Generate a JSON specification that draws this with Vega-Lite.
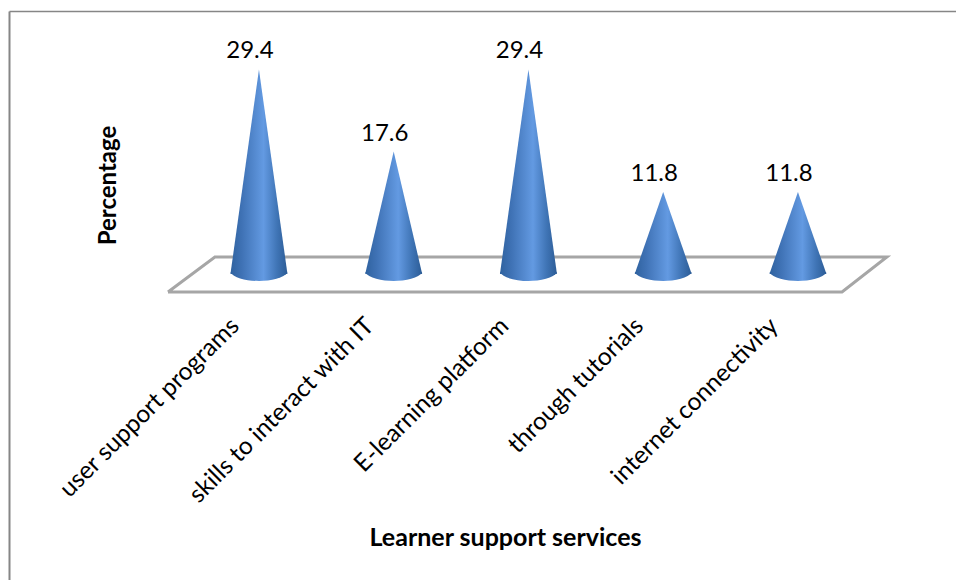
{
  "$schema": "https://vega.github.io/schema/vega-lite/v6.json",
  "width": 947,
  "height": 569,
  "autosize": {"type": "none"},
  "padding": {"left": 9, "top": 11, "right": 0, "bottom": 0},
  "background": "white",
  "view": {"stroke": null},
  "config": {"font": "Lato"},
  "datasets": {
    "services": [
      {"position": 1, "service": "user support programs", "base": 0, "value": 29.4},
      {"position": 2, "service": "skills to interact with IT", "base": 0, "value": 17.6},
      {"position": 3, "service": "E-learning platform", "base": 0, "value": 29.4},
      {"position": 4, "service": "through tutorials", "base": 0, "value": 11.8},
      {"position": 5, "service": "internet connectivity", "base": 0, "value": 11.8}
    ],
    "floor": [
      {"corner": 1, "x": 0.325, "y": -2.59},
      {"corner": 2, "x": 0.673, "y": 2.44},
      {"corner": 3, "x": 5.66, "y": 2.44},
      {"corner": 4, "x": 5.327, "y": -2.59},
      {"corner": 5, "x": 0.325, "y": -2.59}
    ]
  },
  "resolve": {"axis": {"x": "independent", "y": "independent"}},
  "layer": [
    {
      "data": {"name": "floor"},
      "mark": {"type": "line", "stroke": "#a6a6a6", "strokeWidth": 3, "strokeJoin": "miter"},
      "encoding": {
        "x": {
          "field": "x",
          "type": "quantitative",
          "scale": {"domain": [-0.855, 6.173], "nice": false, "zero": false},
          "axis": {
            "orient": "top",
            "title": null,
            "labels": false,
            "ticks": false,
            "grid": false,
            "domain": true,
            "domainColor": "#868686",
            "domainWidth": 1.5
          }
        },
        "y": {
          "field": "y",
          "type": "quantitative",
          "scale": {"domain": [-43.97, 37.79], "nice": false, "zero": false},
          "axis": {
            "orient": "left",
            "title": "Percentage",
            "titleFont": "Lato",
            "titleFontSize": 24,
            "titleFontWeight": "bold",
            "titleColor": "black",
            "titleX": 111,
            "titleY": 174,
            "labels": false,
            "ticks": false,
            "grid": false,
            "domain": true,
            "domainColor": "#868686",
            "domainWidth": 2
          }
        },
        "order": {"field": "corner", "type": "quantitative"}
      }
    },
    {
      "data": {"name": "services"},
      "transform": [
        {"fold": ["base", "value"], "as": ["end", "height"]},
        {"calculate": "datum.position - (datum.end === 'base' ? 0.2115 : 0)", "as": "left"},
        {"calculate": "datum.position + (datum.end === 'base' ? 0.2115 : 0)", "as": "right"}
      ],
      "mark": {
        "type": "area",
        "orient": "horizontal",
        "fill": {
          "gradient": "linear",
          "x1": 0, "y1": 0, "x2": 1, "y2": 0,
          "stops": [
            {"offset": 0, "color": "#2f629f"},
            {"offset": 0.2, "color": "#3f72b5"},
            {"offset": 0.58, "color": "#639ae2"},
            {"offset": 0.82, "color": "#3f74b5"},
            {"offset": 1, "color": "#2c5c96"}
          ]
        }
      },
      "encoding": {
        "x": {
          "field": "left",
          "type": "quantitative",
          "scale": {"domain": [-0.855, 6.173], "nice": false, "zero": false},
          "axis": {
            "orient": "bottom",
            "offset": -280,
            "values": [1, 2, 3, 4, 5],
            "labelExpr": "['user support programs','skills to interact with IT','E-learning platform','through tutorials','internet connectivity'][datum.value - 1]",
            "labelAngle": -45,
            "labelAlign": "right",
            "labelBaseline": "middle",
            "labelFont": "Lato",
            "labelFontSize": 24.5,
            "labelColor": "black",
            "labelPadding": 22,
            "labelOffset": -24,
            "labelOverlap": false,
            "labelBound": false,
            "labelFlush": false,
            "labelLimit": 400,
            "title": "Learner support services",
            "titleFont": "Lato",
            "titleFontSize": 25,
            "titleFontWeight": "bold",
            "titleColor": "black",
            "titleX": 496,
            "titleY": 225,
            "domain": false,
            "ticks": false,
            "grid": false
          }
        },
        "x2": {"field": "right"},
        "y": {
          "field": "height",
          "type": "quantitative",
          "scale": {"domain": [-43.97, 37.79], "nice": false, "zero": false},
          "axis": null
        },
        "detail": {"field": "position"}
      }
    },
    {
      "data": {"name": "services"},
      "mark": {
        "type": "point",
        "filled": true,
        "opacity": 1,
        "size": 3249,
        "shape": "M-1,-0.07 C-0.9,0.15 -0.4,0.245 0,0.245 C0.4,0.245 0.9,0.15 1,-0.07 Z",
        "fill": {
          "gradient": "linear",
          "x1": 0, "y1": 0, "x2": 1, "y2": 0,
          "stops": [
            {"offset": 0, "color": "#2f629f"},
            {"offset": 0.2, "color": "#3f72b5"},
            {"offset": 0.58, "color": "#639ae2"},
            {"offset": 0.82, "color": "#3f74b5"},
            {"offset": 1, "color": "#2c5c96"}
          ]
        }
      },
      "encoding": {
        "x": {"field": "position", "type": "quantitative", "scale": {"domain": [-0.855, 6.173], "nice": false, "zero": false}, "axis": null},
        "y": {"field": "base", "type": "quantitative", "scale": {"domain": [-43.97, 37.79], "nice": false, "zero": false}, "axis": null}
      }
    },
    {
      "data": {"name": "services"},
      "mark": {"type": "text", "font": "Lato", "fontSize": 24, "color": "black", "baseline": "bottom", "dy": -6, "dx": -9},
      "encoding": {
        "x": {"field": "position", "type": "quantitative", "scale": {"domain": [-0.855, 6.173], "nice": false, "zero": false}, "axis": null},
        "y": {"field": "value", "type": "quantitative", "scale": {"domain": [-43.97, 37.79], "nice": false, "zero": false}, "axis": null},
        "text": {"field": "value", "type": "quantitative", "format": ".1f"}
      }
    }
  ]
}
